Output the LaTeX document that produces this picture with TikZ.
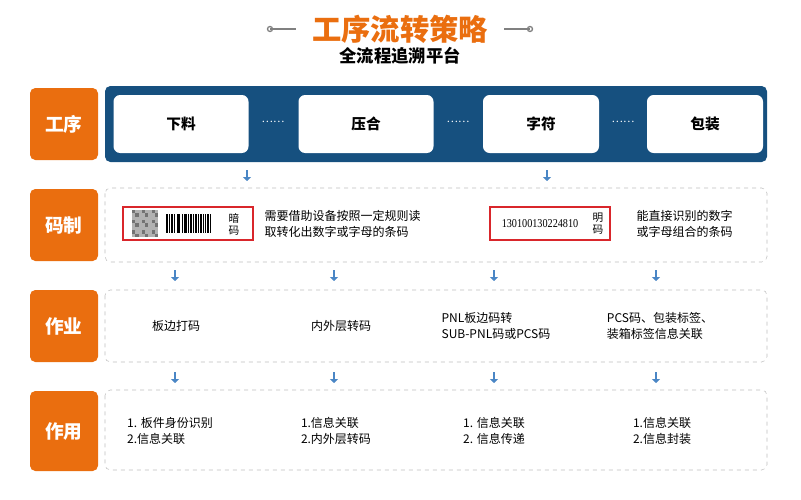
\documentclass[tikz,border=0pt]{standalone}
\usepackage{fontspec}
\setmainfont{Noto Sans CJK SC}
\newfontfamily\numfont{Liberation Serif}
\usetikzlibrary{positioning,arrows.meta}
\definecolor{ordorange}{HTML}{EA6E0F}
\definecolor{ordblue}{HTML}{16507F}
\definecolor{arrblue}{HTML}{4A86C5}
\definecolor{codered}{HTML}{D9262B}
\tikzset{
  rowlabel/.style={fill=ordorange, rounded corners=4pt, minimum width=68\px, minimum height=72\px, text=white, font=\bfseries\fontsize{14}{14}\selectfont},
  stepbox/.style={fill=white, rounded corners=5pt, minimum width=135\px, minimum height=58\px, font=\bfseries\fontsize{11}{11}\selectfont},
  panel/.style={draw=black!25, dashed, rounded corners=4pt},
  downarrow/.style={arrblue, line width=2.2pt, -{Triangle[length=3pt,width=6pt]}},
  cell/.style={font=\fontsize{9}{12}\selectfont, align=left},
}
\newcommand\px{pt*0.75}
\begin{document}
\begin{tikzpicture}[x=0.75pt,y=-0.75pt]
  \useasboundingbox (0,0) rectangle (801,500);

  % title
  \node (title) at (400,29) {\color{ordorange}\bfseries\fontsize{22}{22}\selectfont 工序流转策略};
  \node (subtitle) at (400,56) {\bfseries\fontsize{13}{13}\selectfont 全流程追溯平台};
  \draw[gray, line width=1.2pt] (270,29) -- (296,29);
  \draw[gray, line width=1pt] (270,29) circle (2.5);
  \draw[gray, line width=1.2pt] (504,29) -- (530,29);
  \draw[gray, line width=1pt] (530,29) circle (2.5);

  % row labels
  \node[rowlabel] (gx) at (64,124) {工序};
  \node[rowlabel] (mz) at (64,225) {码制};
  \node[rowlabel] (zy) at (64,326) {作业};
  \node[rowlabel, minimum height=80\px] (zu) at (64,431) {作用};

  % process panel
  \fill[ordblue, rounded corners=4pt] (105,86) rectangle (767,162);
  \node[stepbox] (xl) at (181,124) {下料};
  \node[stepbox] (yh) at (366,124) {压合};
  \node[stepbox, minimum width=116\px] (zf) at (541,124) {字符};
  \node[stepbox, minimum width=116\px] (bz) at (705,124) {包装};
  \foreach \x in {273,458,623}
    \node[white, font=\fontsize{8}{8}\selectfont] at (\x,122) {……};

  % dashed panels
  \draw[panel] (105,188) rectangle (767,262);
  \draw[panel] (105,290) rectangle (767,362);
  \draw[panel] (105,390) rectangle (767,470);

  % arrows
  \draw[downarrow] (247,170) -- (247,181);
  \draw[downarrow] (547,170) -- (547,181);
  \foreach \x in {175,334,494,656} {
    \draw[downarrow] (\x,270) -- (\x,281);
    \draw[downarrow] (\x,372) -- (\x,383);
  }

  % code types
  \draw[codered, line width=1pt] (123,207) rectangle (253,240);
  \fill[black!30] (132,210) rectangle (158,237);
  \foreach \i in {0,...,7}
    \foreach \j in {0,...,7} {
      \pgfmathtruncatemacro\cellon{mod(\i*7+\j*13+\i*\j,3)}
      \ifnum\cellon=0
        \fill[black!55] (132+\i*3.25,210+\j*3.37) rectangle ++(3.25,3.37);
      \fi
    }
  \foreach \x/\w in {166/1.5,169/0.8,171/2,174/1,176.5/0.8,178/2.2,181.5/1,183.5/0.8,185/1.8,188/1,190/2,193/0.8,195/1.5,197.5/1,199.5/2.2,203/1,205/0.8,207/1.8,210/1}
    \fill[black] (\x,214) rectangle ++(\w,19);
  \node[font=\fontsize{8}{9}\selectfont, align=center] (an) at (234,224) {暗\\码};
  \node[cell, anchor=west] (anx) at (260,224) {需要借助设备按照一定规则读\\取转化出数字或字母的条码};

  \draw[codered, line width=1pt] (490,207) rectangle (610,240);
  \node[font=\numfont\fontsize{9}{9}\selectfont, xscale=0.85] (num) at (540,224) {130100130224810};
  \node[font=\fontsize{8}{9}\selectfont, align=center] (ming) at (598,224) {明\\码};
  \node[cell, anchor=west] (mingx) at (632,224) {能直接识别的数字\\或字母组合的条码};

  % operations
  \node[cell] (op1) at (176,326) {板边打码};
  \node[cell] (op2) at (341,326) {内外层转码};
  \node[cell] (op3) at (496,326) {PNL板边码转\\SUB-PNL码或PCS码};
  \node[cell] (op4) at (660,326) {PCS码、包装标签、\\装箱标签信息关联};

  % purposes
  \node[cell] (use1) at (170,431) {1. 板件身份识别\\2.信息关联};
  \node[cell] (use2) at (336,431) {1.信息关联\\2.内外层转码};
  \node[cell] (use3) at (494,431) {1. 信息关联\\2. 信息传递};
  \node[cell] (use4) at (662,431) {1.信息关联\\2.信息封装};
\end{tikzpicture}
\end{document}
